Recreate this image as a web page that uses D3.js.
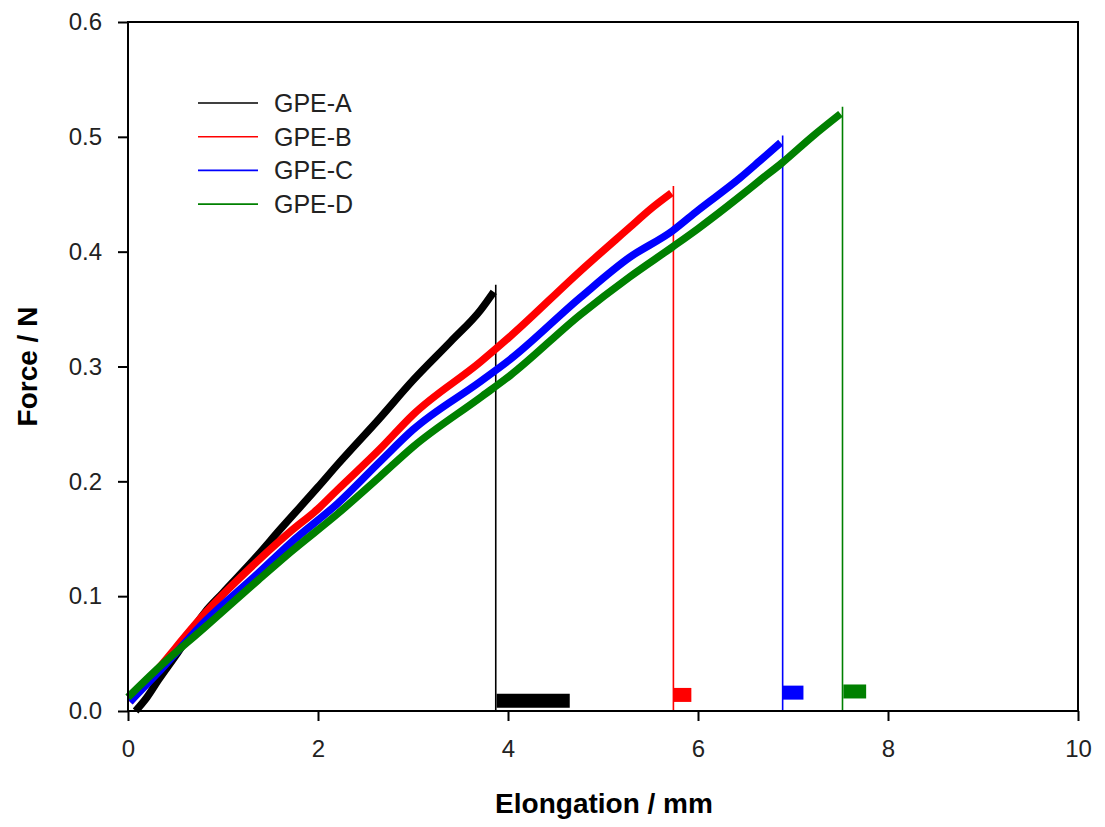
<!DOCTYPE html>
<html>
<head>
<meta charset="utf-8">
<script src="https://cdn.jsdelivr.net/npm/d3@7"></script>
<style>
  body { margin: 0; background: #fff; }
  text { font-family: Arial, "Liberation Sans", sans-serif; }
</style>
</head>
<body>
<div id="chart"></div>
<script>
// values: [elongation mm, force N]
const seriesNames = ["GPE-A", "GPE-B", "GPE-C", "GPE-D"];
const seriesColors = ["#000000", "#ff0000", "#0000ff", "#008000"];

const gpeA_rise = [[0.08,0.0],[0.2,0.012],[0.32,0.027],[0.5,0.048],[0.81,0.086],[1.0,0.103],[1.37,0.136],[1.6,0.158],[2.0,0.195],[2.21,0.215],[2.65,0.255],[3.0,0.288],[3.4,0.322],[3.71,0.349],[3.85,0.365]];
const gpeB_rise = [[0.02,0.008],[0.3,0.035],[0.81,0.085],[1.37,0.131],[1.72,0.157],[2.0,0.176],[2.21,0.193],[2.65,0.228],[3.0,0.258],[3.71,0.304],[4.02,0.326],[4.76,0.383],[5.28,0.421],[5.5,0.437],[5.72,0.451]];
const gpeC_rise = [[0.02,0.008],[0.3,0.032],[0.81,0.078],[1.37,0.12],[1.72,0.147],[2.21,0.181],[2.65,0.217],[3.0,0.245],[3.71,0.287],[4.02,0.306],[4.76,0.36],[5.28,0.395],[5.73,0.418],[6.0,0.436],[6.44,0.464],[6.65,0.479],[6.87,0.495]];
const gpeD_rise = [[0.0,0.012],[0.3,0.036],[0.81,0.073],[1.37,0.114],[1.72,0.139],[2.21,0.172],[2.65,0.204],[3.0,0.23],[3.71,0.273],[4.02,0.292],[4.76,0.345],[5.28,0.378],[5.73,0.404],[6.0,0.42],[6.44,0.448],[6.65,0.462],[6.88,0.477],[7.2,0.5],[7.5,0.52]];

// after break: short noisy stretch near zero
const gpeA_tail = [[3.88,0.009],[4.65,0.009]];
const gpeB_tail = [[5.74,0.014],[5.93,0.014]];
const gpeC_tail = [[6.89,0.016],[7.11,0.016]];
const gpeD_tail = [[7.53,0.017],[7.77,0.017]];

const xTicks = [0, 2, 4, 6, 8, 10];
const yTicks = [0, 0.1, 0.2, 0.3, 0.4, 0.5, 0.6];

const rises = [gpeA_rise, gpeB_rise, gpeC_rise, gpeD_rise];
const tails = [gpeA_tail, gpeB_tail, gpeC_tail, gpeD_tail];

const W = 1105, H = 827;
const m = { left: 128, right: 1078, top: 22, bottom: 711 };

const svg = d3.select("#chart").append("svg")
  .attr("width", W).attr("height", H);

const x = d3.scaleLinear().domain([0, 10]).range([m.left, m.right]);
const y = d3.scaleLinear().domain([0, 0.6]).range([m.bottom, m.top]);

const line = d3.line()
  .x(d => x(d[0])).y(d => y(d[1]))
  .curve(d3.curveMonotoneX);

// curves
rises.forEach((r, i) => {
  const col = seriesColors[i];
  const t = tails[i];
  const g = svg.append("g");
  g.append("path")
    .attr("d", line(r))
    .attr("fill", "none")
    .attr("stroke", col)
    .attr("stroke-width", 7.5)
    .attr("stroke-linejoin", "round");
  // sudden break
  const last = r[r.length - 1];
  g.append("line")
    .attr("x1", x(last[0]) + 2).attr("x2", x(last[0]) + 2)
    .attr("y1", y(last[1]) - 7).attr("y2", y(0))
    .attr("stroke", col).attr("stroke-width", 1.6);
  g.append("path")
    .attr("d", line(t))
    .attr("fill", "none")
    .attr("stroke", col)
    .attr("stroke-width", 14);
});

// frame
svg.append("rect")
  .attr("x", m.left).attr("y", m.top)
  .attr("width", m.right - m.left).attr("height", m.bottom - m.top)
  .attr("fill", "none").attr("stroke", "#000").attr("stroke-width", 2);

// axes
const xAxis = svg.append("g")
  .attr("transform", `translate(0,${m.bottom})`)
  .call(d3.axisBottom(x).tickValues(xTicks).tickSize(10).tickPadding(19).tickFormat(d3.format("d")));
const yAxis = svg.append("g")
  .attr("transform", `translate(${m.left},0)`)
  .call(d3.axisLeft(y).tickValues(yTicks).tickSize(10).tickPadding(16).tickFormat(d3.format(".1f")));

[xAxis, yAxis].forEach(a => {
  a.select(".domain").remove();
  a.selectAll(".tick line").attr("stroke", "#000").attr("stroke-width", 2);
  a.selectAll(".tick text")
    .attr("fill", "#222")
    .style("font-size", "24px")
    .style("font-family", "Arial, 'Liberation Sans', sans-serif");
});

// axis titles
svg.append("text")
  .attr("x", 604).attr("y", 813)
  .attr("text-anchor", "middle")
  .style("font-size", "28px").style("font-weight", "bold")
  .text("Elongation / mm");

svg.append("text")
  .attr("transform", `translate(37,${(m.top + m.bottom) / 2}) rotate(-90)`)
  .attr("text-anchor", "middle")
  .style("font-size", "28px").style("font-weight", "bold")
  .text("Force / N");

// legend
const legend = svg.append("g");
seriesNames.forEach((name, i) => {
  const ly = 103 + i * 33.7;
  legend.append("line")
    .attr("x1", 198).attr("x2", 258)
    .attr("y1", ly).attr("y2", ly)
    .attr("stroke", seriesColors[i]).attr("stroke-width", 1.6);
  legend.append("text")
    .attr("x", 274).attr("y", ly)
    .attr("dy", "0.36em")
    .attr("fill", "#222")
    .style("font-size", "25px")
    .text(name);
});
</script>
</body>
</html>
